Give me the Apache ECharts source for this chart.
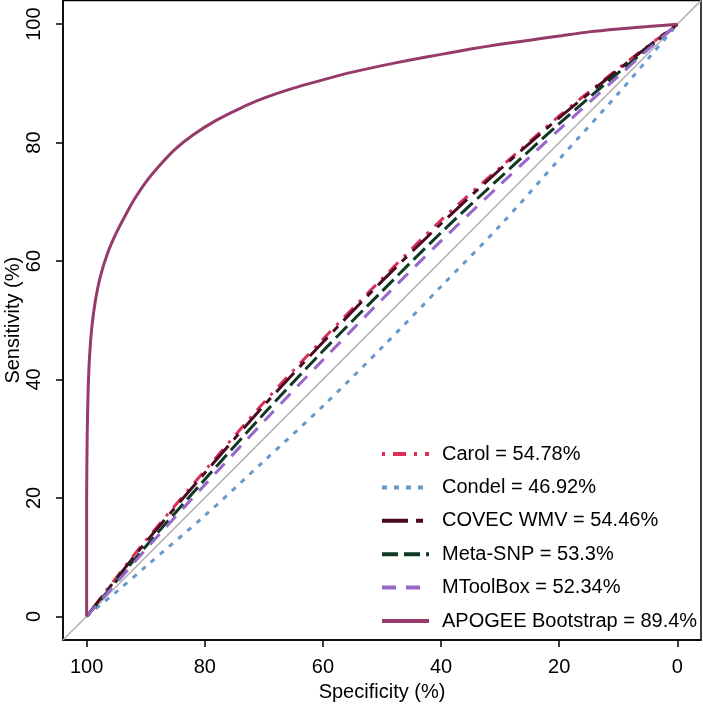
<!DOCTYPE html>
<html><head><meta charset="utf-8">
<script src="https://cdn.jsdelivr.net/npm/echarts@6/dist/echarts.min.js"></script>
<style>html,body{margin:0;padding:0;background:#fff}#c{width:703px;height:704px}</style>
</head><body><div id="c"></div>
<script>
const tickValues = [0, 20, 40, 60, 80, 100];
const seriesNames = ['Carol', 'Condel', 'COVEC WMV', 'Meta-SNP', 'MToolBox', 'APOGEE Bootstrap'];
const aucLabels = ['54.78%', '46.92%', '54.46%', '53.3%', '52.34%', '89.4%'];
const specGrid = [100, 95, 90, 80, 70, 60, 50, 40, 30, 20, 10, 5, 0];
const carolSens = [0, 6.5, 12.8, 24.6, 36.1, 46.8, 57.0, 66.9, 75.8, 84.5, 92.5, 96.3, 100];
const condelSens = [0, 4.1, 8.4, 17.0, 26.2, 35.5, 45.4, 55.7, 66.0, 77.2, 88.3, 94.1, 100];
const covecSens = [0, 6.3, 12.5, 24.2, 35.6, 46.3, 56.6, 66.3, 75.5, 84.2, 92.3, 96.2, 100];
const metaSens = [0, 5.9, 11.8, 23.1, 34.2, 44.8, 54.9, 64.8, 74.1, 83.2, 91.8, 95.9, 100];
const mtoolSens = [0, 5.6, 11.3, 22.2, 32.9, 43.3, 53.5, 63.4, 72.9, 82.2, 91.2, 95.7, 100];
const apogeeSpec = [100, 100, 100, 99.9, 99.75, 99.5, 99.1, 98.5, 97.7, 96.5, 95, 93.5, 92, 90, 87.5, 85, 82, 78, 74, 70, 65, 60, 55, 50, 45, 40, 35, 30, 25, 20, 15, 10, 5, 0];
const apogeeSens = [0, 10, 20, 31, 38, 44, 49, 53.4, 57.3, 61.2, 64.7, 67.6, 70.3, 73.3, 76.3, 78.9, 81.3, 83.8, 85.8, 87.5, 89.2, 90.6, 91.9, 93.0, 94.0, 94.9, 95.8, 96.6, 97.3, 98.0, 98.7, 99.2, 99.6, 100];
const diagSpec = [104, -4];
const diagSens = [-4, 104];

const colors = ['#DC2F57', '#6699CC', '#4A0A22', '#0E3A24', '#9966CC', '#963A6A'];
const dashes = [[3, 8, 13, 8], [5, 7], [26, 8, 7, 8], [16, 6], [14, 10], 'solid'];
const sensList = [carolSens, condelSens, covecSens, metaSens, mtoolSens];

const FONT = 'Liberation Sans, Arial, sans-serif';
const series = [{
  type: 'line', name: 'diag', data: diagSpec.map((s, i) => [s, diagSens[i]]),
  showSymbol: false, symbol: 'none', lineStyle: {color: '#AFAFAF', width: 1.5}, z: 1, silent: true, animation: false
}];
for (let k = 0; k < 5; k++) {
  series.push({
    type: 'line', name: seriesNames[k], data: specGrid.map((s, i) => [s, sensList[k][i]]),
    symbol: 'none', showSymbol: false, smooth: 0.3, animation: false,
    lineStyle: {color: colors[k], width: 3, type: dashes[k]}, itemStyle: {color: colors[k]}, z: 2 + k
  });
}
series.push({
  type: 'line', name: seriesNames[5], data: apogeeSpec.map((s, i) => [s, apogeeSens[i]]),
  symbol: 'none', showSymbol: false, smooth: 0.2, animation: false,
  lineStyle: {color: colors[5], width: 3, type: 'solid'}, itemStyle: {color: colors[5]}, z: 8
});

const chart = echarts.init(document.getElementById('c'), null, {renderer: 'canvas'});
chart.setOption({
  animation: false,
  textStyle: {fontFamily: FONT},
  grid: {left: 63, right: 2, top: 0.5, bottom: 64, show: true, borderColor: '#000', borderWidth: 1.5, backgroundColor: 'transparent', containLabel: false, outerBoundsMode: 'none'},
  xAxis: {
    type: 'value', inverse: true, min: -4, max: 104,
    name: 'Specificity (%)', nameLocation: 'middle', nameGap: 42, nameMoveOverlap: false,
    nameTextStyle: {fontSize: 20, color: '#000', fontFamily: FONT},
    axisLine: {show: true, onZero: false, lineStyle: {color: '#000', width: 1.5}},
    axisTick: {show: true, inside: false, length: 7, lineStyle: {color: '#000', width: 1.5}, customValues: tickValues},
    axisLabel: {fontSize: 20, color: '#000', margin: 17, fontFamily: FONT, customValues: tickValues},
    splitLine: {show: false}
  },
  yAxis: {
    type: 'value', min: -4, max: 104,
    name: 'Sensitivity (%)', nameLocation: 'middle', nameGap: 40, nameMoveOverlap: false,
    nameTextStyle: {fontSize: 20, color: '#000', fontFamily: FONT},
    axisLine: {show: true, onZero: false, lineStyle: {color: '#000', width: 1.5}},
    axisTick: {show: true, inside: false, length: 7, lineStyle: {color: '#000', width: 1.5}, customValues: tickValues},
    axisLabel: {fontSize: 20, color: '#000', margin: 19, rotate: 90, fontFamily: FONT, customValues: tickValues},
    splitLine: {show: false}
  },
  legend: {
    data: seriesNames, orient: 'vertical', left: 375, top: 439,
    itemWidth: 47, itemHeight: 20, itemGap: 13.4,
    itemStyle: {opacity: 0},
    lineStyle: {width: 4},
    formatter: name => name + ' = ' + aucLabels[seriesNames.indexOf(name)],
    textStyle: {fontSize: 20, color: '#000', fontFamily: FONT, padding: [0, 0, 0, 8]},
    selectedMode: false
  },
  series: series
});
</script></body></html>
